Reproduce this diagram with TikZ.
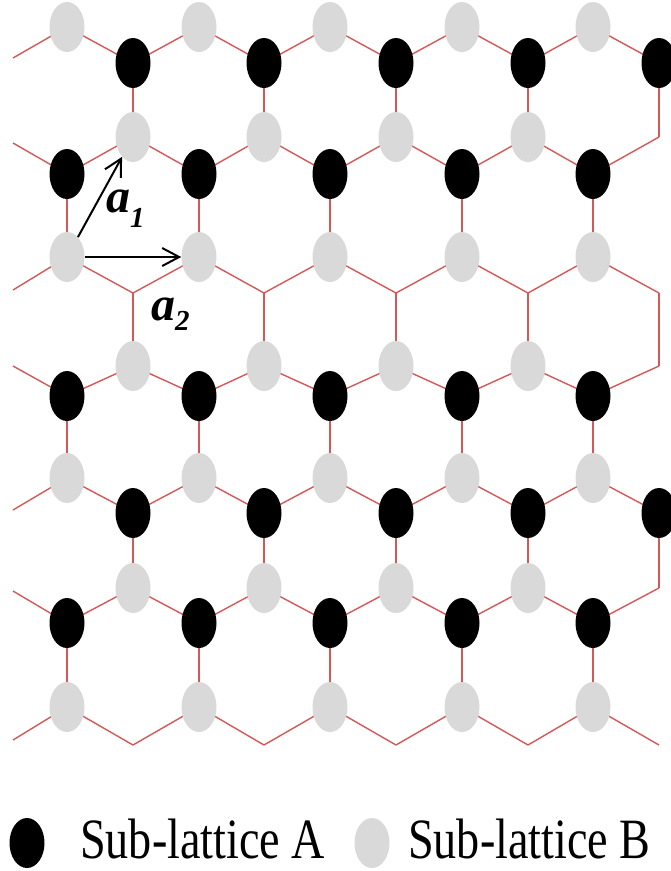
\documentclass[tikz,border=0pt]{standalone}
\usepackage{fontspec}
\setmainfont{Liberation Serif}
\usetikzlibrary{shapes.geometric, arrows.meta}
\definecolor{bondred}{RGB}{212,88,88}
\definecolor{atomgrey}{RGB}{217,217,217}
\newcommand{\latvec}[2]{a\raisebox{-#2pt}{\fontsize{29}{29}\selectfont #1}}

\begin{document}
\begin{tikzpicture}[
  x=1pt, y=-1pt,
  >=Stealth,
  bond/.style={draw=bondred, line width=1.4pt},
  atom/.style={
    ellipse, minimum width=35pt, minimum height=50pt,
    inner sep=0pt, draw=none
  },
  atomA/.style={atom, fill=black},
  atomB/.style={atom, fill=atomgrey},
  latarrow/.style={
    line width=2pt, black,
    -{Straight Barb[length=17pt, width=18pt, line width=2pt]}
  },
  veclabel/.style={font=\fontsize{48}{52}\selectfont\bfseries\itshape, inner sep=0pt},
  keytext/.style={font=\fontsize{57}{62}\selectfont, inner sep=0pt, xscale=0.81}
]
\useasboundingbox (0,0) rectangle (671,871);

% lattice sites (row / height, column / position)
\foreach \r/\y in {0/27, 1/63, 2/137, 3/174, 4/257, 5/293, 6/366,
                   7/396, 8/478, 9/513, 10/588, 11/623, 12/707, 13/745}
  \foreach \k/\x in {0/67, 1/133, 2/199, 3/264, 4/330,
                     5/396, 6/462, 7/528, 8/593, 9/659}
    \coordinate (s\r-\k) at (\x,\y);

% open bonds at the left edge
\foreach \r/\y in {0/58, 3/143, 4/290, 7/366, 8/510, 11/591, 12/740}
  \coordinate (edge\r) at (13,\y);
\foreach \r in {0,3,4,7,8,11,12}
  \draw[bond] (s\r-0) -- (edge\r);

% zigzag bonds
\foreach \r/\p in {0/0, 2/1, 4/0, 6/1, 8/0, 10/1, 12/0} {
  \pgfmathtruncatemacro\nr{\r+1}
  \pgfmathtruncatemacro\kk{\p+2}
  \foreach \k in {\p,\kk,...,9} {
    \pgfmathtruncatemacro\kl{\k-1}
    \pgfmathtruncatemacro\kr{\k+1}
    \ifnum\kl>-1 \draw[bond] (s\r-\k) -- (s\nr-\kl); \fi
    \ifnum\kr<10 \draw[bond] (s\r-\k) -- (s\nr-\kr); \fi
  }
}

% vertical bonds
\foreach \r/\p in {1/1, 3/0, 5/1, 7/0, 9/1, 11/0} {
  \pgfmathtruncatemacro\nr{\r+1}
  \pgfmathtruncatemacro\kk{\p+2}
  \foreach \k in {\p,\kk,...,9}
    \draw[bond] (s\r-\k) -- (s\nr-\k);
}

% sub-lattice A
\foreach \r/\p in {1/1, 3/0, 7/0, 9/1, 11/0} {
  \pgfmathtruncatemacro\kk{\p+2}
  \foreach \k in {\p,\kk,...,9}
    \node[atomA] (A\r-\k) at (s\r-\k) {};
}

% sub-lattice B
\foreach \r/\p/\last in {0/0/8, 2/1/7, 4/0/8, 6/1/7, 8/0/8, 10/1/7, 12/0/8} {
  \pgfmathtruncatemacro\kk{\p+2}
  \foreach \k in {\p,\kk,...,\last}
    \node[atomB] (B\r-\k) at (s\r-\k) {};
}

% lattice vectors
\draw[latarrow] (B4-0) -- (B2-1);
\draw[latarrow] (B4-0) -- (B4-2);
\node[veclabel, anchor=base west] (a1) at (106,212) {\latvec{1}{15}};
\node[veclabel, anchor=base west] (a2) at (151,320) {\latvec{2}{10}};

% legend
\node[atomA] (keyA) at (27,843) {};
\node[keytext, anchor=base west] (keyAtext) at (80,858) {Sub-lattice A};
\node[atomB] (keyB) at (372,843) {};
\node[keytext, anchor=base west] (keyBtext) at (408,858) {Sub-lattice B};

\end{tikzpicture}
\end{document}
